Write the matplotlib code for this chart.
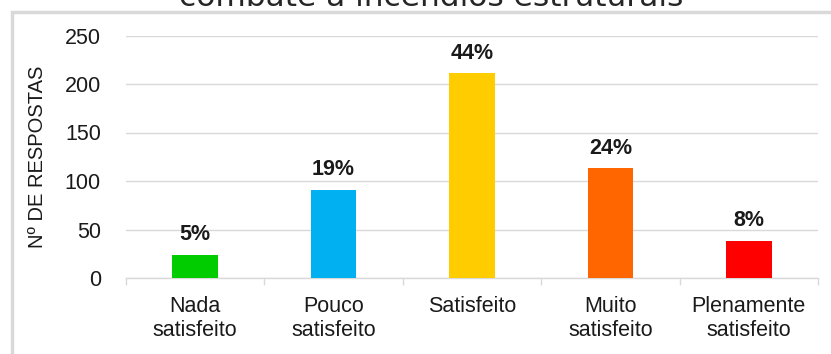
import matplotlib.pyplot as plt
from matplotlib.patches import Rectangle

categorias = ["Nada\nsatisfeito", "Pouco\nsatisfeito", "Satisfeito",
              "Muito\nsatisfeito", "Plenamente\nsatisfeito"]
respostas = [24, 91, 211, 113, 38]
percentuais = ["5%", "19%", "44%", "24%", "8%"]
cores = ["#00CC00", "#00B0F0", "#FFCC00", "#FF6600", "#FF0000"]
y_ticks = [0, 50, 100, 150, 200, 250]

plt.rcParams["font.family"] = ["Liberation Sans", "DejaVu Sans"]

fig = plt.figure(figsize=(8.31, 3.54), dpi=100)
fig.patch.set_facecolor("white")

# moldura cinza do grafico (cortada na imagem)
fig.patches.append(Rectangle((11.5 / 831, -0.2), 1.2, 1.2 - 11.5 / 354,
                             transform=fig.transFigure, fill=False,
                             edgecolor="#D9D9D9", lw=2.5, zorder=0))

# titulo cortado no topo
fig.text(431 / 831, 1 - 5.5 / 354, "combate a incêndios estruturais",
         family="DejaVu Sans", fontsize=22.5, color="#262626",
         ha="center", va="baseline")

ax = fig.add_axes([126 / 831, 1 - 278 / 354, 692 / 831, 242.5 / 354])
x = list(range(len(categorias)))
barras = ax.bar(x, respostas, width=0.33, color=cores, zorder=3)
ax.bar_label(barras, labels=percentuais, padding=7, fontsize=15.5,
             fontweight="bold", color="#1a1a1a")

ax.set_xlim(-0.5, 4.5)
ax.set_ylim(0, 250)
ax.set_yticks(y_ticks)
ax.set_xticks(x)
ax.set_xticklabels(categorias, fontsize=15.5, color="#1a1a1a", linespacing=1.2)
ax.set_xticks([i - 0.5 for i in range(6)], minor=True)
ax.tick_params(axis="x", which="major", length=0, pad=13)
ax.tick_params(axis="x", which="minor", length=5, color="#D9D9D9", width=1)
ax.tick_params(axis="y", length=0, pad=18, labelsize=15.5, labelcolor="#1a1a1a")

ax.grid(axis="y", color="#D9D9D9", lw=1, zorder=0)
for s in ["top", "right", "left"]:
    ax.spines[s].set_visible(False)
ax.spines["bottom"].set_color("#D9D9D9")
ax.spines["bottom"].set_linewidth(1)
ax.set_facecolor("none")

ax.set_ylabel("Nº DE RESPOSTAS", fontsize=14.5, color="#1a1a1a")
ax.yaxis.set_label_coords(-0.114, 0.5)

fig.savefig("out.png", dpi=100)
